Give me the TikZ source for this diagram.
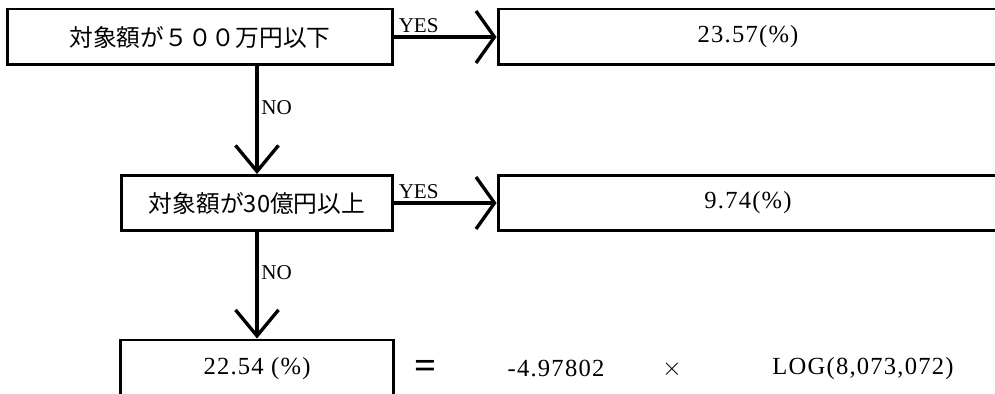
\documentclass[tikz,border=0pt]{standalone}
\usepackage{fontspec}
\setmainfont{Liberation Serif}
\newfontfamily\jpfont{Noto Sans CJK JP}
\newfontfamily\numfont[LetterSpace=5]{Liberation Serif}
\usepackage{xcolor}
\usetikzlibrary{arrows.meta}
\definecolor{ink}{HTML}{000000}
\tikzset{
  box/.style={draw=ink, line width=1.7pt, minimum height=1.12cm, inner sep=0pt},
  link/.style={draw=ink, line width=1.9pt},
  yesarr/.style={link, -{Straight Barb[length=0.37cm, width=1.04cm]}},
  noarr/.style={link, -{Straight Barb[length=0.52cm, width=0.86cm]}},
  labs/.style={font=\fontsize{12}{12}\selectfont, inner sep=1.5pt},
  jp/.style={font=\jpfont\fontsize{13.5}{14}\selectfont},
  num/.style={font=\numfont\fontsize{14}{14}\selectfont}
}

\begin{document}
\begin{tikzpicture}[x=0.02cm, y=-0.02cm]
  \useasboundingbox (0,0) rectangle (995,394);

  \node[box, jp, minimum width=7.72cm] (q1) at (200,37) {対象額が５００万円以下};
  \node[box, num, minimum width=10cm] (r1) at (748,37) {23.57(\%)};
  \node[box, jp, minimum width=5.44cm, minimum height=1.1cm] (q2) at (257,203) {対象額が30億円以上};
  \node[box, num, minimum width=10cm, minimum height=1.1cm] (r2) at (748,203) {9.74(\%)};
  \node[box, num, minimum width=5.48cm, minimum height=1.16cm] (res) at (257,369) {22.54 (\%)};

  \draw[yesarr] (q1) -- node[labs, above right, pos=0] {YES} (r1);
  \draw[yesarr] (q2) -- node[labs, above right, pos=0] {YES} (r2);
  \draw[noarr] (q1.south -| q2.north) -- node[labs, right, pos=0.38] {NO} (q2.north);
  \draw[noarr] (q2) -- node[labs, right, pos=0.38] {NO} (res);

  \node[font=\fontsize{22}{22}\selectfont\bfseries] (eq) at (426,369) {=};
  \node[num] (coef) at (556,369) {-4.97802};
  \node[num] (times) at (672,369) {$\times$};
  \node[num] (logv) at (863,369) {LOG(8,073,072)};
\end{tikzpicture}
\end{document}
